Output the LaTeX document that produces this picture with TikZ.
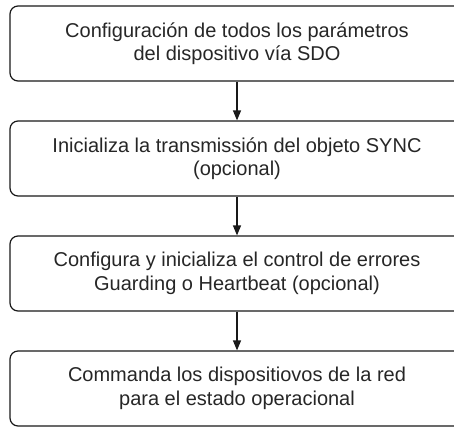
\documentclass[tikz,border=0pt]{standalone}
\usepackage{fontspec}
\setmainfont{Liberation Sans}
\usetikzlibrary{arrows.meta}
\begin{document}
\begin{tikzpicture}[x=1pt,y=1pt,
  stepbox/.style={draw=black!90, line width=1.2pt, rounded corners=8pt,
    minimum width=454pt, minimum height=75pt, inner sep=0pt,
    align=center, font=\fontsize{20}{23.5}\selectfont, text=black!85},
  flow/.style={draw=black!90, line width=1.2pt, -{Triangle[length=10pt,width=8pt]}}]
\useasboundingbox (0,0) rectangle (454,-426);
\clip (0,0) rectangle (454,-426);
\node[stepbox] (s1) at (237,-43.5) {Configuración de todos los parámetros\\del dispositivo vía SDO};
\node[stepbox] (s2) at (237,-158.5) {Inicializa la transmissión del objeto SYNC\\(opcional)};
\node[stepbox] (s3) at (237,-273.5) {Configura y inicializa el control de errores\\Guarding o Heartbeat (opcional)};
\node[stepbox] (s4) at (237,-388.5) {Commanda los dispositiovos de la red\\para el estado operacional};
\draw[flow] (s1) -- (s2);
\draw[flow] (s2) -- (s3);
\draw[flow] (s3) -- (s4);
\end{tikzpicture}
\end{document}
